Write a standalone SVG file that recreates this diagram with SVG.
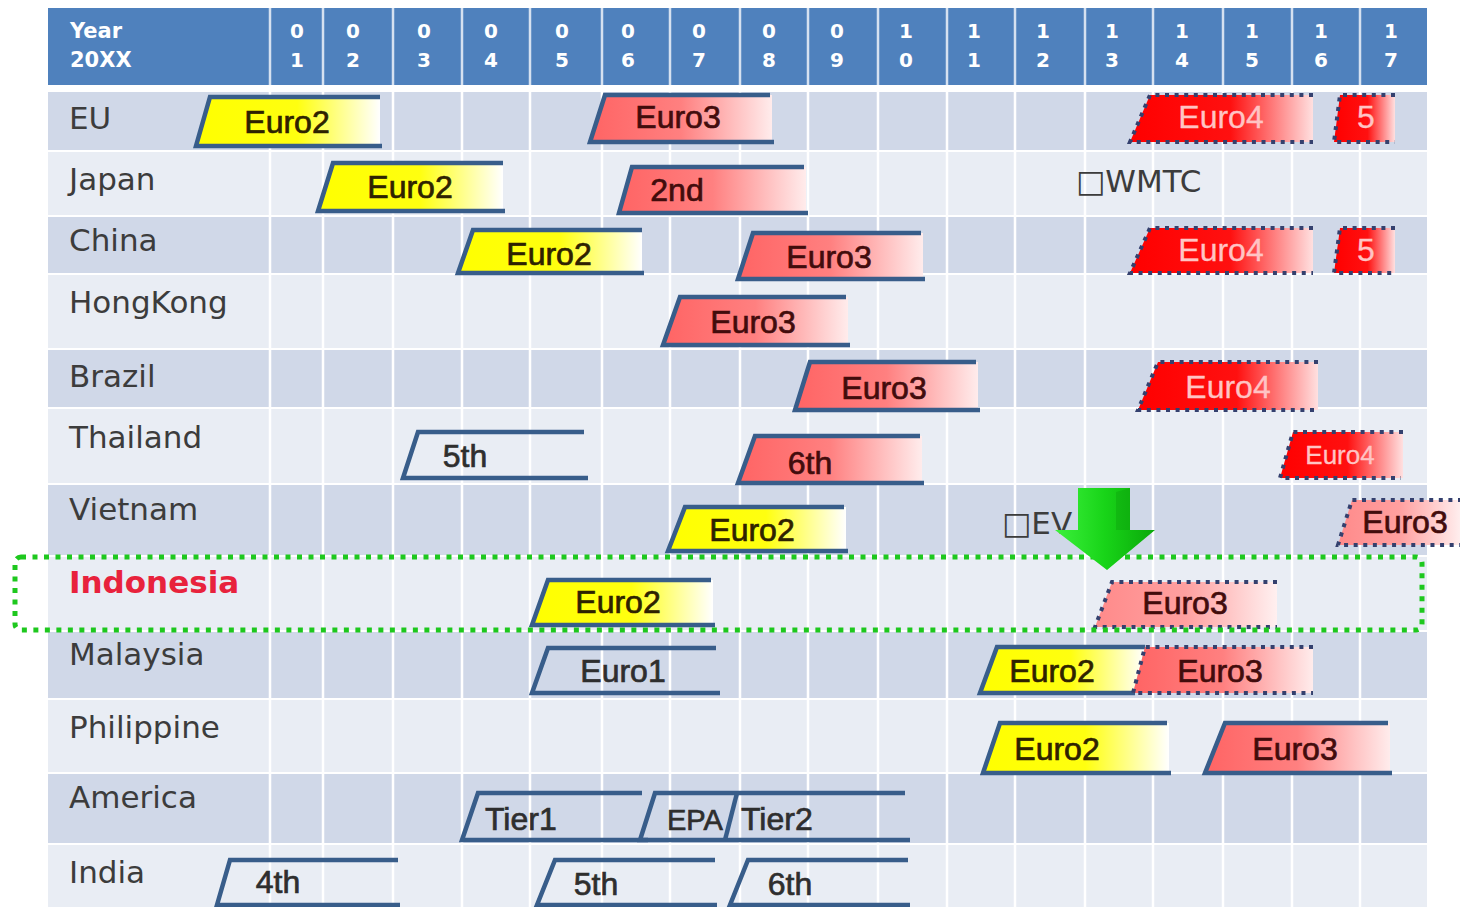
<svg xmlns="http://www.w3.org/2000/svg" width="1460" height="907" viewBox="0 0 1460 907">
<defs>
<style>
.lbl{font-family:"DejaVu Sans",Verdana,sans-serif;font-size:31px;fill:#3c3c3c}
.hdr{font-family:"DejaVu Sans",Verdana,sans-serif;font-weight:bold;font-size:21px;fill:#ffffff}
.dg{font-family:"DejaVu Sans",Verdana,sans-serif;font-weight:bold;font-size:20px;fill:#ffffff;text-anchor:middle}
.bt{font-family:"Liberation Sans",Arial,sans-serif;font-size:32px;text-anchor:middle;stroke-width:0.7px}
.t2{fill:#2e2200;stroke:#2e2200}
.t3{fill:#420c0c;stroke:#420c0c}
.t4{fill:#ffc4c4;stroke:#ffc4c4;stroke-width:0.3px}
.tn{fill:#2e2e2e;stroke:#2e2e2e}
.edge{fill:none;stroke:#385D8A;stroke-width:4.5;stroke-linejoin:miter}
.dot{fill:none;stroke:#34406e;stroke-width:4;stroke-dasharray:4 5.6}
.dark{fill:#D0D8E8}
.light{fill:#E9EDF4}
.vl{stroke:#ffffff;stroke-width:2.5}
.hl{stroke:#d6e1f0;stroke-width:2.5}
.note{font-family:"DejaVu Sans",Verdana,sans-serif;font-size:31px;fill:#3c3c3c}
</style>
<linearGradient id="gY" x1="0" x2="1" y1="0" y2="0">
<stop offset="0" stop-color="#ffff00"/><stop offset="0.55" stop-color="#ffff10"/><stop offset="1" stop-color="#ffffff"/>
</linearGradient>
<linearGradient id="gP" x1="0" x2="1" y1="0" y2="0">
<stop offset="0" stop-color="#ff6464"/><stop offset="0.5" stop-color="#ff8080"/><stop offset="1" stop-color="#ffecec"/>
</linearGradient>
<linearGradient id="gL" x1="0" x2="1" y1="0" y2="0">
<stop offset="0" stop-color="#ff8a8a"/><stop offset="0.5" stop-color="#ffa0a0"/><stop offset="1" stop-color="#fff0f0"/>
</linearGradient>
<linearGradient id="gR" x1="0" x2="1" y1="0" y2="0">
<stop offset="0" stop-color="#ff0000"/><stop offset="0.55" stop-color="#ff1010"/><stop offset="1" stop-color="#ffe0e0"/>
</linearGradient>
<linearGradient id="gA" x1="0" x2="1" y1="0" y2="0">
<stop offset="0" stop-color="#3cf03c"/><stop offset="0.5" stop-color="#18d418"/><stop offset="1" stop-color="#0aa80a"/>
</linearGradient>
</defs>
<rect x="0" y="0" width="1460" height="907" fill="#ffffff"/>

<g id="table">
<rect x="48" y="8" width="1379" height="77" fill="#4F81BD"/>
<rect class="dark" x="48" y="92" width="1379" height="58"/>
<rect class="light" x="48" y="152" width="1379" height="63"/>
<rect class="dark" x="48" y="217" width="1379" height="56"/>
<rect class="light" x="48" y="275" width="1379" height="73"/>
<rect class="dark" x="48" y="350" width="1379" height="57"/>
<rect class="light" x="48" y="409" width="1379" height="74"/>
<rect class="dark" x="48" y="485" width="1379" height="70"/>
<rect class="light" x="48" y="557" width="1379" height="73"/>
<rect class="dark" x="48" y="632" width="1379" height="66"/>
<rect class="light" x="48" y="700" width="1379" height="72"/>
<rect class="dark" x="48" y="774" width="1379" height="69"/>
<rect class="light" x="48" y="845" width="1379" height="62"/>
<g class="hl">
<line x1="270" y1="8" x2="270" y2="85"/><line x1="323" y1="8" x2="323" y2="85"/><line x1="393" y1="8" x2="393" y2="85"/><line x1="462" y1="8" x2="462" y2="85"/><line x1="530" y1="8" x2="530" y2="85"/><line x1="602" y1="8" x2="602" y2="85"/><line x1="670" y1="8" x2="670" y2="85"/><line x1="740" y1="8" x2="740" y2="85"/><line x1="808" y1="8" x2="808" y2="85"/><line x1="878" y1="8" x2="878" y2="85"/><line x1="947" y1="8" x2="947" y2="85"/><line x1="1015" y1="8" x2="1015" y2="85"/><line x1="1085" y1="8" x2="1085" y2="85"/><line x1="1153" y1="8" x2="1153" y2="85"/><line x1="1223" y1="8" x2="1223" y2="85"/><line x1="1292" y1="8" x2="1292" y2="85"/><line x1="1360" y1="8" x2="1360" y2="85"/>
</g>
<g class="vl">
<line x1="270" y1="92" x2="270" y2="907"/><line x1="323" y1="92" x2="323" y2="907"/><line x1="393" y1="92" x2="393" y2="907"/><line x1="462" y1="92" x2="462" y2="907"/><line x1="530" y1="92" x2="530" y2="907"/><line x1="602" y1="92" x2="602" y2="907"/><line x1="670" y1="92" x2="670" y2="907"/><line x1="740" y1="92" x2="740" y2="907"/><line x1="808" y1="92" x2="808" y2="907"/><line x1="878" y1="92" x2="878" y2="907"/><line x1="947" y1="92" x2="947" y2="907"/><line x1="1015" y1="92" x2="1015" y2="907"/><line x1="1085" y1="92" x2="1085" y2="907"/><line x1="1153" y1="92" x2="1153" y2="907"/><line x1="1223" y1="92" x2="1223" y2="907"/><line x1="1292" y1="92" x2="1292" y2="907"/><line x1="1360" y1="92" x2="1360" y2="907"/>
</g>
</g>

<g id="header">
<text class="hdr" x="70" y="38">Year</text>
<text class="hdr" x="70" y="67">20XX</text>
<text class="dg" x="297" y="38">0</text><text class="dg" x="297" y="67">1</text>
<text class="dg" x="353" y="38">0</text><text class="dg" x="353" y="67">2</text>
<text class="dg" x="424" y="38">0</text><text class="dg" x="424" y="67">3</text>
<text class="dg" x="491" y="38">0</text><text class="dg" x="491" y="67">4</text>
<text class="dg" x="562" y="38">0</text><text class="dg" x="562" y="67">5</text>
<text class="dg" x="628" y="38">0</text><text class="dg" x="628" y="67">6</text>
<text class="dg" x="699" y="38">0</text><text class="dg" x="699" y="67">7</text>
<text class="dg" x="769" y="38">0</text><text class="dg" x="769" y="67">8</text>
<text class="dg" x="837" y="38">0</text><text class="dg" x="837" y="67">9</text>
<text class="dg" x="906" y="38">1</text><text class="dg" x="906" y="67">0</text>
<text class="dg" x="974" y="38">1</text><text class="dg" x="974" y="67">1</text>
<text class="dg" x="1043" y="38">1</text><text class="dg" x="1043" y="67">2</text>
<text class="dg" x="1112" y="38">1</text><text class="dg" x="1112" y="67">3</text>
<text class="dg" x="1182" y="38">1</text><text class="dg" x="1182" y="67">4</text>
<text class="dg" x="1252" y="38">1</text><text class="dg" x="1252" y="67">5</text>
<text class="dg" x="1321" y="38">1</text><text class="dg" x="1321" y="67">6</text>
<text class="dg" x="1391" y="38">1</text><text class="dg" x="1391" y="67">7</text>
</g>

<g id="labels">
<text class="lbl" x="69" y="129">EU</text>
<text class="lbl" x="69" y="190">Japan</text>
<text class="lbl" x="69" y="251">China</text>
<text class="lbl" x="69" y="313">HongKong</text>
<text class="lbl" x="69" y="387">Brazil</text>
<text class="lbl" x="69" y="448">Thailand</text>
<text class="lbl" x="69" y="520">Vietnam</text>
<text class="lbl" x="69" y="593" style="font-weight:bold;fill:#e8223c">Indonesia</text>
<text class="lbl" x="69" y="665">Malaysia</text>
<text class="lbl" x="69" y="738">Philippine</text>
<text class="lbl" x="69" y="808">America</text>
<text class="lbl" x="69" y="883">India</text>
</g>

<!-- EU -->
<g id="eu-euro2"><polygon points="210,97 380,97 380,146 196,146" fill="url(#gY)"/><polyline class="edge" points="380,97 210,97 196,146 382,146"/><text class="bt t2" x="287" y="133">Euro2</text></g>
<g id="eu-euro3"><polygon points="605,95 772,95 772,142 590,142" fill="url(#gP)"/><polyline class="edge" points="770,95 605,95 590,142 774,142"/><text class="bt t3" x="678" y="128">Euro3</text></g>
<g id="eu-euro4"><polygon points="1150,95 1313,95 1313,142 1130,142" fill="url(#gR)"/><polyline class="dot" points="1313,95 1150,95 1130,142 1313,142"/><text class="bt t4" x="1221" y="128">Euro4</text></g>
<g id="eu-5"><polygon points="1340,95 1395,95 1395,142 1334,142" fill="url(#gR)"/><polyline class="dot" points="1395,95 1340,95 1334,142 1395,142"/><text class="bt t4" x="1366" y="128">5</text></g>

<!-- Japan -->
<g id="jp-euro2"><polygon points="333,163 503,163 503,211 318,211" fill="url(#gY)"/><polyline class="edge" points="503,163 333,163 318,211 505,211"/><text class="bt t2" x="410" y="198">Euro2</text></g>
<g id="jp-2nd"><polygon points="632,167 806,167 806,213 619,213" fill="url(#gP)"/><polyline class="edge" points="804,167 632,167 619,213 808,213"/><text class="bt t3" x="677" y="201">2nd</text></g>
<g id="jp-wmtc"><text class="note" x="1076" y="192">□WMTC</text></g>

<!-- China -->
<g id="cn-euro2"><polygon points="473,230 642,230 642,273 458,273" fill="url(#gY)"/><polyline class="edge" points="642,230 473,230 458,273 644,273"/><text class="bt t2" x="549" y="265">Euro2</text></g>
<g id="cn-euro3"><polygon points="753,233 923,233 923,279 738,279" fill="url(#gP)"/><polyline class="edge" points="921,233 753,233 738,279 925,279"/><text class="bt t3" x="829" y="268">Euro3</text></g>
<g id="cn-euro4"><polygon points="1150,228 1313,228 1313,273 1130,273" fill="url(#gR)"/><polyline class="dot" points="1313,228 1150,228 1130,273 1313,273"/><text class="bt t4" x="1221" y="261">Euro4</text></g>
<g id="cn-5"><polygon points="1340,228 1395,228 1395,273 1334,273" fill="url(#gR)"/><polyline class="dot" points="1395,228 1340,228 1334,273 1395,273"/><text class="bt t4" x="1366" y="261">5</text></g>

<!-- HongKong -->
<g id="hk-euro3"><polygon points="680,297 848,297 848,345 663,345" fill="url(#gP)"/><polyline class="edge" points="846,297 680,297 663,345 850,345"/><text class="bt t3" x="753" y="333">Euro3</text></g>

<!-- Brazil -->
<g id="br-euro3"><polygon points="810,362 978,362 978,410 795,410" fill="url(#gP)"/><polyline class="edge" points="976,362 810,362 795,410 980,410"/><text class="bt t3" x="884" y="399">Euro3</text></g>
<g id="br-euro4"><polygon points="1158,362 1318,362 1318,410 1138,410" fill="url(#gR)"/><polyline class="dot" points="1318,362 1158,362 1138,410 1318,410"/><text class="bt t4" x="1228" y="398">Euro4</text></g>

<!-- Thailand -->
<g id="th-5th"><polyline class="edge" points="584,432 418,432 403,478 588,478"/><text class="bt tn" x="465" y="467">5th</text></g>
<g id="th-6th"><polygon points="755,436 922,436 922,483 738,483" fill="url(#gP)"/><polyline class="edge" points="920,436 755,436 738,483 924,483"/><text class="bt t3" x="810" y="474">6th</text></g>
<g id="th-euro4"><polygon points="1293,432 1403,432 1403,478 1280,478" fill="url(#gR)"/><polyline class="dot" points="1403,432 1293,432 1280,478 1401,478"/><text class="bt t4" x="1340" y="464" style="font-size:26px">Euro4</text></g>

<!-- Vietnam -->
<g id="vn-euro2"><polygon points="685,507 846,507 846,551 668,551" fill="url(#gY)"/><polyline class="edge" points="844,507 685,507 668,551 848,551"/><text class="bt t2" x="752" y="541">Euro2</text></g>
<g id="vn-ev"><text class="note" x="1002" y="534">□EV</text></g>
<g id="vn-euro3"><polygon points="1352,500 1462,500 1462,545 1338,545" fill="url(#gL)"/><polyline class="dot" points="1462,500 1352,500 1338,545 1462,545"/><text class="bt t3" x="1405" y="533">Euro3</text></g>

<!-- Indonesia -->
<g id="id-euro2"><polygon points="548,580 713,580 713,625 532,625" fill="url(#gY)"/><polyline class="edge" points="711,580 548,580 532,625 715,625"/><text class="bt t2" x="618" y="613">Euro2</text></g>
<g id="id-euro3"><polygon points="1112,582 1277,582 1277,627 1095,627" fill="url(#gL)"/><polyline class="dot" points="1277,582 1112,582 1095,627 1277,627"/><text class="bt t3" x="1185" y="614">Euro3</text></g>
<g id="id-highlight"><rect x="15" y="557" width="1407" height="73" rx="6" fill="none" stroke="#1ec81e" stroke-width="5" stroke-dasharray="5 6.5"/></g>

<!-- Malaysia -->
<g id="my-euro1"><polyline class="edge" points="716,648 548,648 532,693 720,693"/><text class="bt tn" x="623" y="682">Euro1</text></g>
<g id="my-euro2"><polygon points="997,647 1145,647 1133,693 980,693" fill="url(#gY)"/><polyline class="edge" points="1145,647 997,647 980,693 1135,693"/><text class="bt t2" x="1052" y="682">Euro2</text></g>
<g id="my-euro3"><polygon points="1145,647 1313,647 1313,693 1133,693" fill="url(#gP)"/><polyline class="dot" points="1313,647 1145,647 1133,693 1313,693"/><text class="bt t3" x="1220" y="682">Euro3</text></g>

<!-- Philippine -->
<g id="ph-euro2"><polygon points="1000,723 1169,723 1169,773 983,773" fill="url(#gY)"/><polyline class="edge" points="1167,723 1000,723 983,773 1171,773"/><text class="bt t2" x="1057" y="760">Euro2</text></g>
<g id="ph-euro3"><polygon points="1225,723 1390,723 1390,773 1205,773" fill="url(#gP)"/><polyline class="edge" points="1388,723 1225,723 1205,773 1392,773"/><text class="bt t3" x="1295" y="760">Euro3</text></g>

<!-- America -->
<g id="us-tier1"><polyline class="edge" points="642,793 478,793 462,840 648,840"/><text class="bt tn" x="485" y="830" style="text-anchor:start">Tier1</text></g>
<g id="us-epa"><polyline class="edge" points="905,793 655,793 640,840 910,840"/><line class="edge" x1="737" y1="793" x2="725" y2="840"/><text class="bt tn" x="667" y="830" style="text-anchor:start;font-size:29px">EPA</text></g>
<g id="us-tier2"><text class="bt tn" x="741" y="830" style="text-anchor:start">Tier2</text></g>

<!-- India -->
<g id="in-4th"><polyline class="edge" points="398,860 230,860 217,905 400,905"/><text class="bt tn" x="278" y="893">4th</text></g>
<g id="in-5th"><polyline class="edge" points="715,860 555,860 537,905 717,905"/><text class="bt tn" x="596" y="895">5th</text></g>
<g id="in-6th"><polyline class="edge" points="908,860 748,860 730,905 910,905"/><text class="bt tn" x="790" y="895">6th</text></g>

<g id="connectors">
<polygon points="1078,488 1130,488 1130,530 1155,530 1107,570 1055,530 1078,530" fill="url(#gA)"/>
<polygon points="1116,492 1130,488 1130,530 1116,530" fill="#0c9a0c" opacity="0.35"/>
</g>
</svg>
